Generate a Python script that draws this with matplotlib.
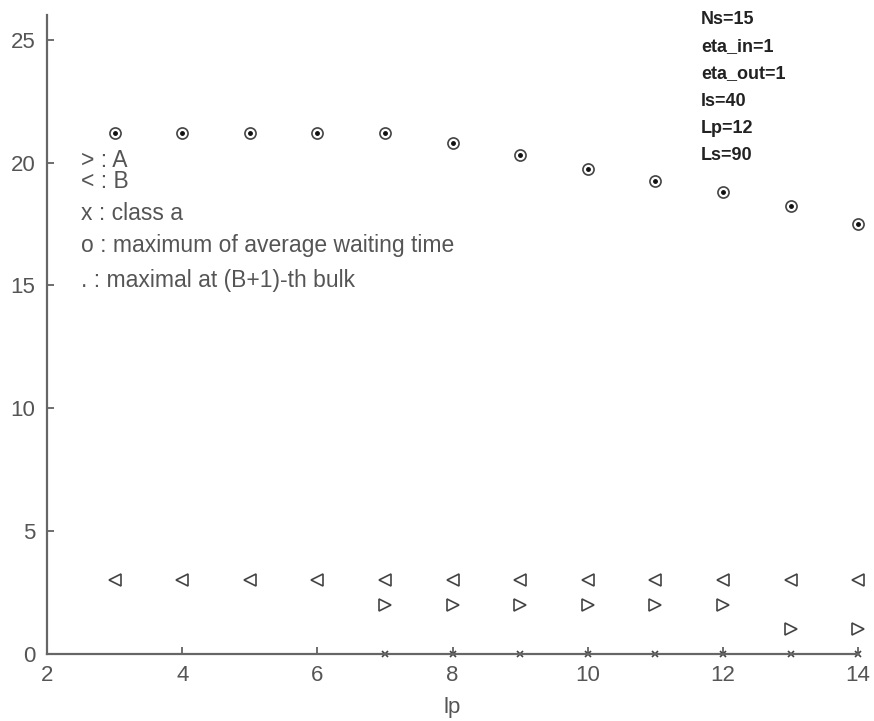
import matplotlib
matplotlib.use("Agg")
import matplotlib.pyplot as plt

plt.rcParams['font.family'] = ['Liberation Sans', 'DejaVu Sans']

# dados
lp_all = [3, 4, 5, 6, 7, 8, 9, 10, 11, 12, 13, 14]
max_wait = [21.2, 21.2, 21.2, 21.2, 21.2, 20.8, 20.3, 19.75, 19.27, 18.8, 18.25, 17.5]
b_vals = [3, 3, 3, 3, 3, 3, 3, 3, 3, 3, 3, 3]
lp_a = [7, 8, 9, 10, 11, 12, 13, 14]
a_vals = [2, 2, 2, 2, 2, 2, 1, 1]
class_a = [0, 0, 0, 0, 0, 0, 0, 0]

legenda = ['> : A', '< : B', 'x : class a',
           'o : maximum of average waiting time', '. : maximal at (B+1)-th bulk']
legenda_y = [20.1, 19.22, 17.94, 16.64, 15.22]
params = ['Ns=15', 'eta_in=1', 'eta_out=1', 'ls=40', 'Lp=12', 'Ls=90']

cor = '#444444'
fig = plt.figure(figsize=(8.74, 7.21), dpi=100)
ax = fig.add_axes([0.0538, 0.0929, 0.928, 0.886])

ax.plot(lp_all, max_wait, 'o', mfc='none', mec=cor, ms=8, mew=1.2, clip_on=False)
ax.plot(lp_all, max_wait, '.', color='#111111', ms=5, clip_on=False)
ax.plot(lp_all, b_vals, '<', mfc='none', mec=cor, ms=8, mew=1.2, clip_on=False)
ax.plot(lp_a, a_vals, '>', mfc='none', mec=cor, ms=8, mew=1.2, clip_on=False)
ax.plot(lp_a, class_a, 'x', color=cor, ms=5, mew=1.2, clip_on=False)

ax.set_xlim(2, 14)
ax.set_ylim(0, 26)
ax.set_xticks(range(2, 15, 2))
ax.set_yticks(range(0, 26, 5))
ax.set_xlabel('lp', color='#555555', fontsize=16, labelpad=8)

for s in ['top', 'right']:
    ax.spines[s].set_visible(False)
for s in ['left', 'bottom']:
    ax.spines[s].set_color('#666666')
    ax.spines[s].set_linewidth(1.6)
ax.tick_params(direction='in', length=5, width=1.2, colors='#555555', labelsize=16)
ax.tick_params(axis='x', pad=8)
ax.tick_params(axis='y', pad=8.5)

for txt, y in zip(legenda, legenda_y):
    ax.text(2.5, y, txt, fontsize=16.5, color='#555555', va='center')

for i, txt in enumerate(params):
    fig.text(0.802, 1 - (19.5 + i * 27.2) / 721, txt, fontsize=13, fontweight='bold',
             color='#222222', va='center')

fig.savefig('out.png', dpi=100)
